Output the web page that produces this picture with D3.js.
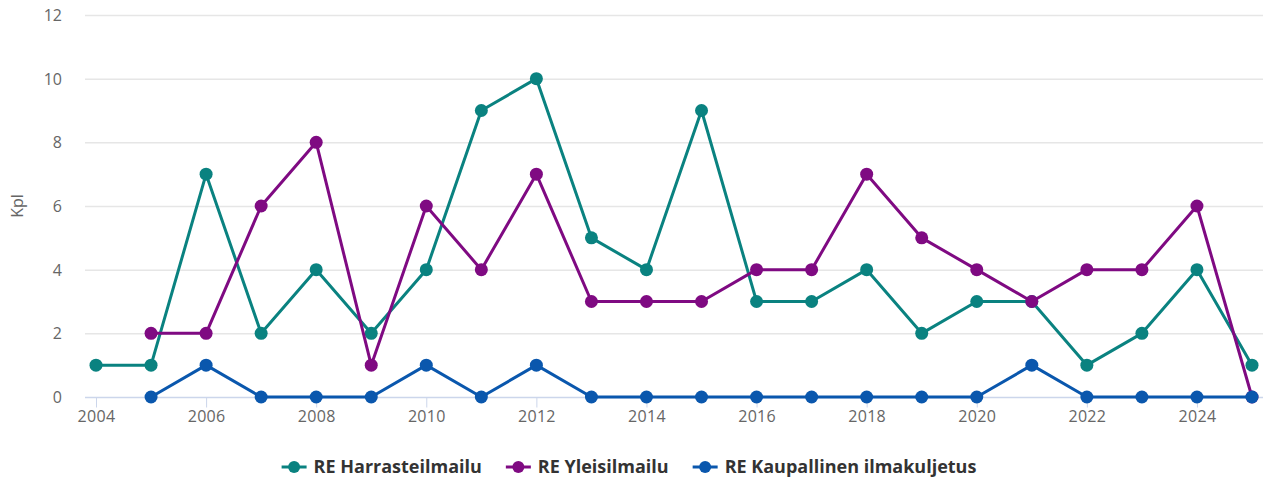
<!DOCTYPE html>
<html>
<head>
<meta charset="utf-8">
<script src="https://cdn.jsdelivr.net/npm/d3@7"></script>
<style>
  body { margin: 0; background: #fff; font-family: "Open Sans", sans-serif; }
  #chart svg { display: block; }
</style>
</head>
<body>
<div id="chart"></div>
<script>
const years = d3.range(2004, 2026);
const harrasteValues = [1, 1, 7, 2, 4, 2, 4, 9, 10, 5, 4, 9, 3, 3, 4, 2, 3, 3, 1, 2, 4, 1];
const yleisValues = [null, 2, 2, 6, 8, 1, 6, 4, 7, 3, 3, 3, 4, 4, 7, 5, 4, 3, 4, 4, 6, 0];
const kaupallinenValues = [null, 0, 1, 0, 0, 0, 1, 0, 1, 0, 0, 0, 0, 0, 0, 0, 0, 1, 0, 0, 0, 0];
const seriesNames = ['RE Harrasteilmailu', 'RE Yleisilmailu', 'RE Kaupallinen ilmakuljetus'];
const seriesColors = ['#0a8280', '#7f0a82', '#0a57ad'];
const yTicks = [0, 2, 4, 6, 8, 10, 12];
const xTicks = [2004, 2006, 2008, 2010, 2012, 2014, 2016, 2018, 2020, 2022, 2024];

function draw() {
    const dimensions = {
        width: 1270,
        height: 483,
        plotLeft: 85,
        plotRight: 1263,
        plotTop: 15,
        plotBottom: 397
    }

    const seriesValues = [harrasteValues, yleisValues, kaupallinenValues];

    const xScale = d3.scaleLinear()
        .domain([2004, 2025])
        .range([96, 1252])

    const yScale = d3.scaleLinear()
        .domain([0, 12])
        .range([dimensions.plotBottom, dimensions.plotTop])

    const svg = d3.select('#chart')
        .append('svg')
        .attr('width', dimensions.width)
        .attr('height', dimensions.height)

    // gridlines
    svg.append('g')
        .selectAll('line')
        .data(yTicks.filter(d => d > 0))
        .join('line')
        .attr('x1', dimensions.plotLeft)
        .attr('x2', dimensions.plotRight)
        .attr('y1', d => yScale(d) + 0.5)
        .attr('y2', d => yScale(d) + 0.5)
        .attr('stroke', '#e6e6e6')
        .attr('stroke-width', 1.5)

    // y axis labels
    svg.append('g')
        .selectAll('text')
        .data(yTicks)
        .join('text')
        .attr('x', 62)
        .attr('y', d => yScale(d) + 6)
        .attr('text-anchor', 'end')
        .attr('fill', '#666')
        .style('font-size', '16px')
        .text(d => d)

    svg.append('text')
        .attr('transform', `translate(23, ${(dimensions.plotTop + dimensions.plotBottom) / 2}) rotate(-90)`)
        .attr('text-anchor', 'middle')
        .attr('fill', '#666')
        .style('font-size', '16px')
        .text('Kpl')

    // x axis
    const xAxis = d3.axisBottom(xScale)
        .tickValues(xTicks)
        .tickFormat(d => d)
        .tickSize(10)
        .tickSizeOuter(0)
        .tickPadding(3)

    const xAxisGroup = svg.append('g')
        .attr('transform', `translate(0, ${dimensions.plotBottom + 0.5})`)
        .call(xAxis)

    xAxisGroup.select('.domain').remove()
    xAxisGroup.append('line')
        .attr('x1', dimensions.plotLeft)
        .attr('x2', dimensions.plotRight)
        .attr('stroke', '#ccd6eb')
        .attr('stroke-width', 1.5)
    xAxisGroup.selectAll('.tick line').attr('stroke', '#ccd6eb')
    xAxisGroup.selectAll('.tick text')
        .attr('fill', '#666')
        .style('font-size', '16px')
        .style('font-family', '"Open Sans", sans-serif')
        .style('letter-spacing', '0.3px')

    // series
    const line = d3.line()
        .defined(d => d.value !== null)
        .x(d => xScale(d.year))
        .y(d => yScale(d.value))

    seriesValues.forEach((values, i) => {
        const points = years.map((year, j) => ({ year, value: values[j] }))
        const g = svg.append('g')
        g.append('path')
            .datum(points)
            .attr('d', line)
            .attr('fill', 'none')
            .attr('stroke', seriesColors[i])
            .attr('stroke-width', 3)
            .attr('stroke-linejoin', 'round')
        g.selectAll('circle')
            .data(points.filter(d => d.value !== null))
            .join('circle')
            .attr('cx', d => xScale(d.year))
            .attr('cy', d => yScale(d.value))
            .attr('r', 6.5)
            .attr('fill', seriesColors[i])
    })

    // legend, laid out from measured text widths and centred
    const legend = svg.append('g')
        .attr('transform', 'translate(0, 467)')
    const items = seriesNames.map((name, i) => {
        const item = legend.append('g')
        item.append('line')
            .attr('x1', 0)
            .attr('x2', 25)
            .attr('stroke', seriesColors[i])
            .attr('stroke-width', 3)
        item.append('circle')
            .attr('cx', 12.5)
            .attr('r', 6)
            .attr('fill', seriesColors[i])
        const text = item.append('text')
            .attr('x', 32)
            .attr('y', 6)
            .attr('fill', '#333')
            .style('font-size', '18px')
            .style('font-weight', 'bold')
            .text(name)
        return { item, width: 32 + text.node().getComputedTextLength() }
    })
    const gap = 24;
    const total = d3.sum(items, d => d.width) + gap * (items.length - 1);
    let cursor = 629 - total / 2;
    items.forEach(d => {
        d.item.attr('transform', `translate(${cursor}, 0)`)
        cursor += d.width + gap
    })
}

draw()
</script>
</body>
</html>
